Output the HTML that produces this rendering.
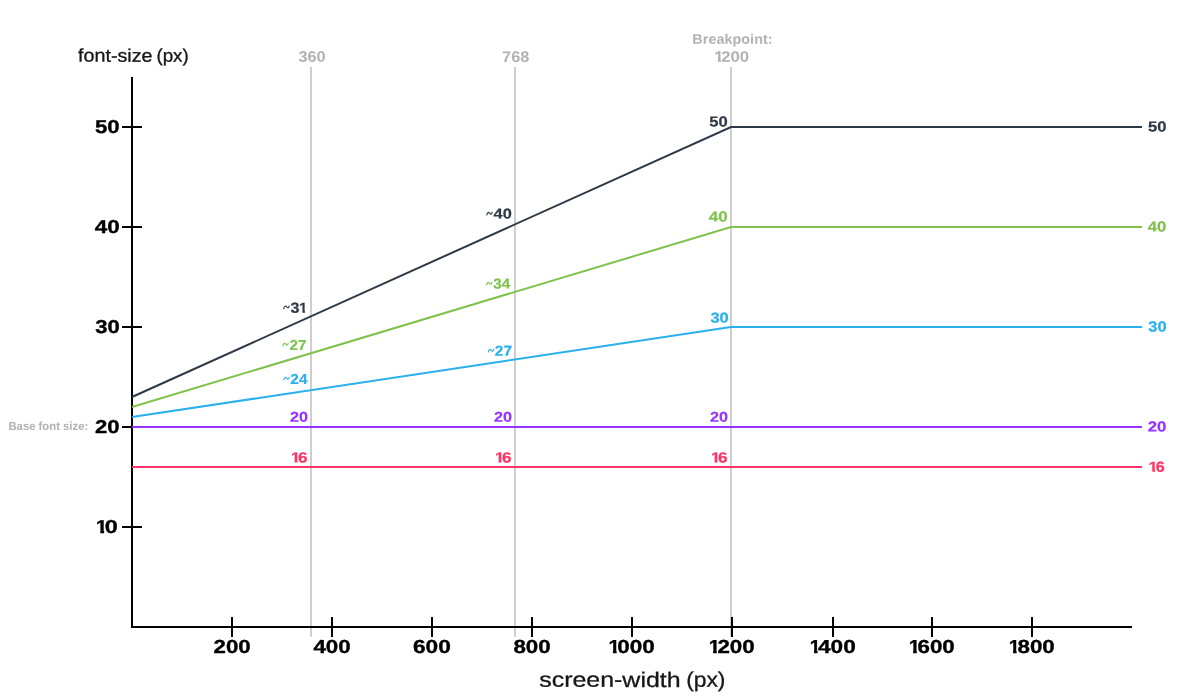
<!DOCTYPE html>
<html>
<head>
<meta charset="utf-8">
<title>Fluid font-size chart</title>
<style>
html,body{margin:0;padding:0;background:#fff;}
body{width:1180px;height:700px;overflow:hidden;}
svg{display:block;will-change:transform;}
text{font-family:"Liberation Sans",sans-serif;}
</style>
</head>
<body>
<svg width="1180" height="700" viewBox="0 0 1180 700">
<rect width="1180" height="700" fill="#fff"/>
<defs><clipPath id="one19" clipPathUnits="userSpaceOnUse"><path d="M-19,-38 H38 V-2.604 H7.612 V19 H4.207 V-2.604 H-19 Z"/></clipPath><clipPath id="one14" clipPathUnits="userSpaceOnUse"><path d="M-14,-28 H28 V-1.919 H5.608 V14 H3.100 V-1.919 H-14 Z"/></clipPath></defs>
<g stroke="#c6c6c6" stroke-width="1.7" fill="none">
<line x1="311" y1="67" x2="311" y2="636.8"/>
<line x1="515" y1="67" x2="515" y2="636.8"/>
<line x1="731" y1="67" x2="731" y2="636.8"/>
</g>
<g stroke="#000" stroke-width="2" fill="none">
<polyline points="132,77 132,627 1132,627"/>
<line x1="122" y1="127" x2="142" y2="127"/>
<line x1="122" y1="227" x2="142" y2="227"/>
<line x1="122" y1="327" x2="142" y2="327"/>
<line x1="122" y1="427" x2="142" y2="427"/>
<line x1="122" y1="527" x2="142" y2="527"/>
<line x1="232" y1="617" x2="232" y2="637"/>
<line x1="332" y1="617" x2="332" y2="637"/>
<line x1="432" y1="617" x2="432" y2="637"/>
<line x1="532" y1="617" x2="532" y2="637"/>
<line x1="632" y1="617" x2="632" y2="637"/>
<line x1="732" y1="617" x2="732" y2="637"/>
<line x1="833" y1="617" x2="833" y2="637"/>
<line x1="932" y1="617" x2="932" y2="637"/>
<line x1="1032" y1="617" x2="1032" y2="637"/>
</g>
<g fill="none" stroke-width="2" stroke-linejoin="miter">
<polyline stroke="#2d3946" points="132,397 731,127 1142,127"/>
<polyline stroke="#7fc24c" points="132,407 731,227 1142,227"/>
<polyline stroke="#2ab1ed" points="132,417 731,327 1142,327"/>
<polyline stroke="#9633ff" points="132,427 1142,427"/>
<polyline stroke="#ff3567" points="132,467 1142,467"/>
</g>
<text transform="matrix(1.0973 0.002 0 1.0134 77.97 61.58)" font-size="18" fill="#161616" stroke="#161616" stroke-width="0.3">font-size </text><text transform="matrix(1.0434 0.002 0 1.0134 156.38 61.62)" font-size="18" fill="#161616" stroke="#161616" stroke-width="0.3">(px)</text>
<text transform="matrix(1.1342 0.002 0 0.9626 539.23 686.73)" font-size="22" fill="#161616" stroke="#161616" stroke-width="0.3">screen-width </text><text transform="matrix(1.0386 0.002 0 0.9626 686.13 686.81)" font-size="22" fill="#161616" stroke="#161616" stroke-width="0.3">(px)</text>
<text transform="matrix(1.1671 0.002 0 1.0886 298.41 61.81)" font-size="14" font-weight="bold" fill="#b2b2b2">360</text>
<text transform="matrix(1.1646 0.002 0 1.1006 502.10 61.92)" font-size="14" font-weight="bold" fill="#b2b2b2">768</text>
<text transform="matrix(1.0330 0.002 0 0.9871 692.33 43.72)" font-size="14" font-weight="bold" fill="#b2b2b2">Breakpoint:</text>
<text transform="matrix(1.2525 0.002 0 1.0786 713.95 61.83)" font-size="14" font-weight="bold" fill="#b2b2b2" clip-path="url(#one14)">1</text><text transform="matrix(1.1974 0.002 0 1.0786 721.22 61.81)" font-size="14" font-weight="bold" fill="#b2b2b2">200</text>
<text transform="matrix(0.9429 0.002 0 0.9805 8.44 429.92)" font-size="12" font-weight="bold" fill="#b2b2b2">Base font size:</text>
<text transform="matrix(1.1722 0.002 0 0.9858 94.97 132.92)" font-size="19" font-weight="bold" fill="#000" stroke="#000" stroke-width="0.35">50</text>
<text transform="matrix(1.1787 0.002 0 0.9858 94.83 232.92)" font-size="19" font-weight="bold" fill="#000" stroke="#000" stroke-width="0.35">40</text>
<text transform="matrix(1.1634 0.002 0 0.9842 95.15 332.89)" font-size="19" font-weight="bold" fill="#000" stroke="#000" stroke-width="0.35">30</text>
<text transform="matrix(1.1653 0.002 0 0.9858 94.91 432.92)" font-size="19" font-weight="bold" fill="#000" stroke="#000" stroke-width="0.35">20</text>
<text transform="matrix(1.1058 0.002 0 0.9858 95.69 532.93)" font-size="19" font-weight="bold" fill="#000" stroke="#000" stroke-width="0.35" clip-path="url(#one19)">1</text><text transform="matrix(1.2344 0.002 0 0.9858 104.75 532.93)" font-size="19" font-weight="bold" fill="#000" stroke="#000" stroke-width="0.35">0</text>
<text transform="matrix(1.1714 0.002 0 0.9932 213.60 653.00)" font-size="19" font-weight="bold" fill="#000" stroke="#000" stroke-width="0.35">200</text>
<text transform="matrix(1.1768 0.002 0 0.9932 313.44 653.01)" font-size="19" font-weight="bold" fill="#000" stroke="#000" stroke-width="0.35">400</text>
<text transform="matrix(1.1928 0.002 0 0.9932 412.94 653.00)" font-size="19" font-weight="bold" fill="#000" stroke="#000" stroke-width="0.35">600</text>
<text transform="matrix(1.1759 0.002 0 0.9932 513.46 653.00)" font-size="19" font-weight="bold" fill="#000" stroke="#000" stroke-width="0.35">800</text>
<text transform="matrix(1.0709 0.002 0 0.9916 608.43 653.01)" font-size="19" font-weight="bold" fill="#000" stroke="#000" stroke-width="0.35" clip-path="url(#one19)">1</text><text transform="matrix(1.1817 0.002 0 0.9916 617.29 652.98)" font-size="19" font-weight="bold" fill="#000" stroke="#000" stroke-width="0.35">000</text>
<text transform="matrix(1.0709 0.002 0 0.9916 708.63 653.01)" font-size="19" font-weight="bold" fill="#000" stroke="#000" stroke-width="0.35" clip-path="url(#one19)">1</text><text transform="matrix(1.1747 0.002 0 0.9916 717.40 652.98)" font-size="19" font-weight="bold" fill="#000" stroke="#000" stroke-width="0.35">200</text>
<text transform="matrix(1.0187 0.002 0 0.9916 809.80 653.01)" font-size="19" font-weight="bold" fill="#000" stroke="#000" stroke-width="0.35" clip-path="url(#one19)">1</text><text transform="matrix(1.1899 0.002 0 0.9916 818.03 652.98)" font-size="19" font-weight="bold" fill="#000" stroke="#000" stroke-width="0.35">400</text>
<text transform="matrix(1.0709 0.002 0 0.9916 908.63 653.01)" font-size="19" font-weight="bold" fill="#000" stroke="#000" stroke-width="0.35" clip-path="url(#one19)">1</text><text transform="matrix(1.1729 0.002 0 0.9916 917.56 652.98)" font-size="19" font-weight="bold" fill="#000" stroke="#000" stroke-width="0.35">600</text>
<text transform="matrix(1.0361 0.002 0 0.9916 1008.68 653.01)" font-size="19" font-weight="bold" fill="#000" stroke="#000" stroke-width="0.35" clip-path="url(#one19)">1</text><text transform="matrix(1.1759 0.002 0 0.9916 1017.46 652.98)" font-size="19" font-weight="bold" fill="#000" stroke="#000" stroke-width="0.35">800</text>
<text transform="matrix(1.1520 0.002 0 1.0383 290.51 312.73)" font-size="14" font-weight="bold" fill="#2d3946" stroke="#2d3946" stroke-width="0.2">3</text><text transform="matrix(1.0162 0.002 0 1.0383 299.28 312.73)" font-size="14" font-weight="bold" fill="#2d3946" stroke="#2d3946" stroke-width="0.2" clip-path="url(#one14)">1</text>
<path d="M283.75,309.10 c0.25,-2.6 1.7,-3.9 3.1,-2.1 c1.1,1.5 2.1,0.9 2.4,-1.5" fill="none" stroke="#2d3946" stroke-width="1.15" stroke-linecap="butt"/>
<text transform="matrix(1.0918 0.002 0 1.0346 289.57 349.88)" font-size="14" font-weight="bold" fill="#7fc24c" stroke="#7fc24c" stroke-width="0.2">27</text>
<path d="M282.75,346.40 c0.25,-2.6 1.7,-3.9 3.1,-2.1 c1.1,1.5 2.1,0.9 2.4,-1.5" fill="none" stroke="#7fc24c" stroke-width="1.15" stroke-linecap="butt"/>
<text transform="matrix(1.0992 0.002 0 1.0346 290.37 383.88)" font-size="14" font-weight="bold" fill="#2ab1ed" stroke="#2ab1ed" stroke-width="0.2">24</text>
<path d="M283.75,380.40 c0.25,-2.6 1.7,-3.9 3.1,-2.1 c1.1,1.5 2.1,0.9 2.4,-1.5" fill="none" stroke="#2ab1ed" stroke-width="1.15" stroke-linecap="butt"/>
<text transform="matrix(1.1577 0.002 0 1.0198 290.04 421.74)" font-size="14" font-weight="bold" fill="#9633ff" stroke="#9633ff" stroke-width="0.2">20</text>
<text transform="matrix(1.1816 0.002 0 1.0501 290.92 462.55)" font-size="14" font-weight="bold" fill="#ff3567" stroke="#ff3567" stroke-width="0.2" clip-path="url(#one14)">1</text><text transform="matrix(1.2268 0.002 0 1.0501 297.97 462.55)" font-size="14" font-weight="bold" fill="#ff3567" stroke="#ff3567" stroke-width="0.2">6</text>
<text transform="matrix(1.1701 0.002 0 1.0198 493.55 218.54)" font-size="14" font-weight="bold" fill="#2d3946" stroke="#2d3946" stroke-width="0.2">40</text>
<path d="M486.75,215.40 c0.25,-2.6 1.7,-3.9 3.1,-2.1 c1.1,1.5 2.1,0.9 2.4,-1.5" fill="none" stroke="#2d3946" stroke-width="1.15" stroke-linecap="butt"/>
<text transform="matrix(1.0883 0.002 0 1.0181 493.23 288.52)" font-size="14" font-weight="bold" fill="#7fc24c" stroke="#7fc24c" stroke-width="0.2">34</text>
<path d="M486.55,285.40 c0.25,-2.6 1.7,-3.9 3.1,-2.1 c1.1,1.5 2.1,0.9 2.4,-1.5" fill="none" stroke="#7fc24c" stroke-width="1.15" stroke-linecap="butt"/>
<text transform="matrix(1.1125 0.002 0 1.0346 494.76 355.68)" font-size="14" font-weight="bold" fill="#2ab1ed" stroke="#2ab1ed" stroke-width="0.2">27</text>
<path d="M488.25,352.40 c0.25,-2.6 1.7,-3.9 3.1,-2.1 c1.1,1.5 2.1,0.9 2.4,-1.5" fill="none" stroke="#2ab1ed" stroke-width="1.15" stroke-linecap="butt"/>
<text transform="matrix(1.1577 0.002 0 1.0198 494.04 421.74)" font-size="14" font-weight="bold" fill="#9633ff" stroke="#9633ff" stroke-width="0.2">20</text>
<text transform="matrix(1.1816 0.002 0 1.0501 494.92 462.55)" font-size="14" font-weight="bold" fill="#ff3567" stroke="#ff3567" stroke-width="0.2" clip-path="url(#one14)">1</text><text transform="matrix(1.2268 0.002 0 1.0501 501.97 462.55)" font-size="14" font-weight="bold" fill="#ff3567" stroke="#ff3567" stroke-width="0.2">6</text>
<text transform="matrix(1.1888 0.002 0 1.0400 709.27 126.54)" font-size="14" font-weight="bold" fill="#2d3946" stroke="#2d3946" stroke-width="0.2">50</text>
<text transform="matrix(1.2175 0.002 0 1.0400 708.84 221.54)" font-size="14" font-weight="bold" fill="#7fc24c" stroke="#7fc24c" stroke-width="0.2">40</text>
<text transform="matrix(1.1799 0.002 0 1.0181 710.40 322.53)" font-size="14" font-weight="bold" fill="#2ab1ed" stroke="#2ab1ed" stroke-width="0.2">30</text>
<text transform="matrix(1.1577 0.002 0 1.0198 710.04 421.74)" font-size="14" font-weight="bold" fill="#9633ff" stroke="#9633ff" stroke-width="0.2">20</text>
<text transform="matrix(1.1816 0.002 0 1.0501 710.92 462.55)" font-size="14" font-weight="bold" fill="#ff3567" stroke="#ff3567" stroke-width="0.2" clip-path="url(#one14)">1</text><text transform="matrix(1.2268 0.002 0 1.0501 717.97 462.55)" font-size="14" font-weight="bold" fill="#ff3567" stroke="#ff3567" stroke-width="0.2">6</text>
<text transform="matrix(1.1888 0.002 0 1.0400 1148.07 131.54)" font-size="14" font-weight="bold" fill="#2d3946" stroke="#2d3946" stroke-width="0.2">50</text>
<text transform="matrix(1.1904 0.002 0 1.0400 1147.85 231.54)" font-size="14" font-weight="bold" fill="#7fc24c" stroke="#7fc24c" stroke-width="0.2">40</text>
<text transform="matrix(1.1799 0.002 0 1.0383 1148.30 331.52)" font-size="14" font-weight="bold" fill="#2ab1ed" stroke="#2ab1ed" stroke-width="0.2">30</text>
<text transform="matrix(1.1990 0.002 0 1.0400 1147.72 431.54)" font-size="14" font-weight="bold" fill="#9633ff" stroke="#9633ff" stroke-width="0.2">20</text>
<text transform="matrix(1.1816 0.002 0 1.0400 1148.62 471.75)" font-size="14" font-weight="bold" fill="#ff3567" stroke="#ff3567" stroke-width="0.2" clip-path="url(#one14)">1</text><text transform="matrix(1.1529 0.002 0 1.0400 1155.71 471.75)" font-size="14" font-weight="bold" fill="#ff3567" stroke="#ff3567" stroke-width="0.2">6</text>
</svg>
</body>
</html>
